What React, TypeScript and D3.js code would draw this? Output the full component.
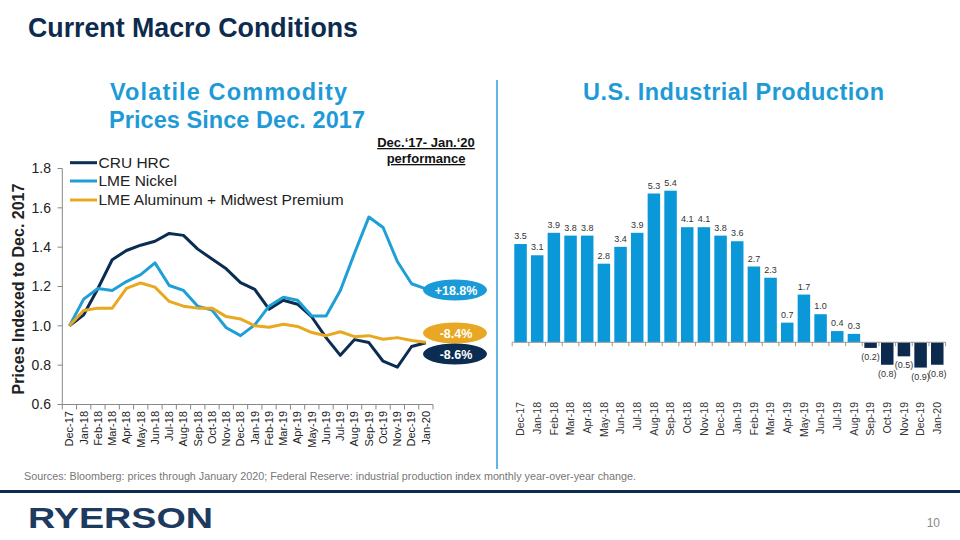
import React from "react";
import * as d3 from "d3";

const months = [
  "Dec-17", "Jan-18", "Feb-18", "Mar-18", "Apr-18", "May-18", "Jun-18", "Jul-18", "Aug-18",
  "Sep-18", "Oct-18", "Nov-18", "Dec-18", "Jan-19", "Feb-19", "Mar-19", "Apr-19", "May-19",
  "Jun-19", "Jul-19", "Aug-19", "Sep-19", "Oct-19", "Nov-19", "Dec-19", "Jan-20",
];

const cruHrc = [1.0, 1.056, 1.19, 1.336, 1.383, 1.41, 1.43, 1.47, 1.46, 1.39, 1.34, 1.29, 1.22,
  1.185, 1.085, 1.13, 1.11, 1.045, 0.94, 0.85, 0.93, 0.915, 0.82, 0.79, 0.895, 0.914];
const lmeNickel = [1.0, 1.136, 1.19, 1.18, 1.225, 1.26, 1.32, 1.205, 1.18, 1.1, 1.08, 0.99, 0.95,
  1.005, 1.1, 1.145, 1.13, 1.05, 1.05, 1.18, 1.37, 1.553, 1.5, 1.327, 1.214, 1.188];
const lmeAluminum = [1.0, 1.078, 1.09, 1.09, 1.19, 1.218, 1.197, 1.124, 1.1, 1.09, 1.09, 1.047, 1.035,
  1.0, 0.993, 1.008, 0.997, 0.966, 0.95, 0.97, 0.945, 0.95, 0.932, 0.94, 0.925, 0.916];

const seriesNames = ["CRU HRC", "LME Nickel", "LME Aluminum + Midwest Premium"];
const seriesColors = ["#0b2d52", "#1e9fd6", "#e8a820"];

const yTicks = [0.6, 0.8, 1.0, 1.2, 1.4, 1.6, 1.8];

const badgeLabels = ["+18.8%", "-8.4%", "-8.6%"];
const badgeColors = ["#1a9ad6", "#e8a823", "#0b2d52"];

const ipValues = [3.5, 3.1, 3.9, 3.8, 3.8, 2.8, 3.4, 3.9, 5.3, 5.4, 4.1, 4.1, 3.8, 3.6, 2.7, 2.3,
  0.7, 1.7, 1.0, 0.4, 0.3, -0.2, -0.8, -0.5, -0.9, -0.8];

const FONT = "'Liberation Sans', Arial, sans-serif";

export default function App() {
  // Left line chart scales
  const xL = d3.scaleBand<string>().domain(months).range([62.3, 433]).padding(0);
  const yL = d3.scaleLinear().domain([0.6, 1.8]).range([404.5, 168.5]);
  const bwL = xL.bandwidth();
  const cx = (m: string) => (xL(m) as number) + bwL / 2;
  const line = d3
    .line<number>()
    .x((_, i) => cx(months[i]))
    .y((v) => yL(v));
  const allSeries = [cruHrc, lmeNickel, lmeAluminum];

  // Right bar chart scales
  const xR = d3.scaleBand<string>().domain(months).range([512.2, 945.6]).paddingInner(0.25).paddingOuter(0.125);
  const yR = d3.scaleLinear().domain([0, 5.4]).range([342.3, 190.7]);
  const stepR = xR.step();
  const bandStartR = (m: string) => 512.2 + months.indexOf(m) * stepR;

  const badgeY = [290, 333, 354];

  return (
    <div style={{ position: "fixed", left: 0, top: 0 }}>
      <svg width={960} height={540} style={{ display: "block", background: "#fff" }} fontFamily={FONT}>
        {/* Main title */}
        <text x={28} y={37} fontSize={27} fontWeight="bold" fill="#0d2b4e" textLength={330} lengthAdjust="spacingAndGlyphs">
          Current Macro Conditions
        </text>

        {/* Subtitles */}
        <text x={228.5} y={100} fontSize={23.5} fontWeight="bold" fill="#1e9bd7" textAnchor="middle" textLength={237} lengthAdjust="spacing">
          Volatile Commodity
        </text>
        <text x={237} y={128} fontSize={23.5} fontWeight="bold" fill="#1e9bd7" textAnchor="middle" textLength={256} lengthAdjust="spacing">
          Prices Since Dec. 2017
        </text>
        <text x={733.5} y={100} fontSize={23.5} fontWeight="bold" fill="#1e9bd7" textAnchor="middle" textLength={301} lengthAdjust="spacing">
          U.S.  Industrial Production
        </text>

        <text x={426} y={147} fontSize={13} fontWeight="bold" fill="#111" textAnchor="middle" textDecoration="underline">
          Dec.‘17- Jan.‘20
        </text>
        <text x={426} y={163} fontSize={13} fontWeight="bold" fill="#111" textAnchor="middle" textDecoration="underline">
          performance
        </text>

        {/* Separator */}
        <line x1={497} x2={497} y1={80} y2={469} stroke="#2aa0d8" strokeWidth={1.5} />

        {/* Left chart axes */}
        <line x1={62.3} x2={62.3} y1={yL(1.8)} y2={yL(0.6)} stroke="#888" strokeWidth={1} />
        {yTicks.map((t) => (
          <g key={t}>
            <line x1={57.5} x2={62.3} y1={yL(t)} y2={yL(t)} stroke="#888" />
            <text x={51} y={yL(t)} dy="0.35em" fontSize={14} fill="#222" textAnchor="end">
              {t.toFixed(1)}
            </text>
          </g>
        ))}
        <line x1={62.3} x2={433} y1={yL(0.6)} y2={yL(0.6)} stroke="#888" />
        {months.concat(["end"]).map((m, i) => {
          const x = 62.3 + i * bwL;
          return <line key={"lt" + i} x1={x} x2={x} y1={yL(0.6)} y2={yL(0.6) + 5} stroke="#888" />;
        })}
        {months.map((m) => (
          <text
            key={"lx" + m}
            transform={`translate(${cx(m)},${411}) rotate(-90)`}
            dy="0.35em"
            fontSize={11}
            fill="#222"
            textAnchor="end"
          >
            {m}
          </text>
        ))}
        <text transform="translate(24,289) rotate(-90)" fontSize={16} fontWeight="bold" fill="#222" textAnchor="middle">
          Prices Indexed to Dec. 2017
        </text>

        {/* Lines */}
        {allSeries.map((s, i) => (
          <path key={"ln" + i} d={line(s) as string} fill="none" stroke={seriesColors[i]} strokeWidth={3} strokeLinejoin="round" />
        ))}

        {/* Legend */}
        {seriesNames.map((n, i) => {
          const ly = [162.7, 181, 200][i];
          return (
            <g key={"lg" + i}>
              <line x1={70} x2={97} y1={ly} y2={ly} stroke={seriesColors[i]} strokeWidth={3} />
              <text x={98.5} y={ly + 5} fontSize={15.5} fill="#222">
                {n}
              </text>
            </g>
          );
        })}

        {/* Badges */}
        {badgeLabels.map((b, i) => (
          <g key={"bd" + i}>
            <ellipse cx={455} cy={badgeY[i]} rx={32} ry={10.5} fill={badgeColors[i]} />
            <text x={456} y={badgeY[i]} dy="0.36em" fontSize={12.5} fontWeight="bold" fill="#fff" textAnchor="middle">
              {b}
            </text>
          </g>
        ))}

        {/* Right chart bars */}
        {ipValues.map((v, i) => {
          const m = months[i];
          const x = xR(m) as number;
          const w = xR.bandwidth();
          const y0 = yR(0);
          const y1 = yR(v);
          return (
            <rect
              key={"bar" + i}
              x={x}
              width={w}
              y={Math.min(y0, y1)}
              height={Math.abs(y1 - y0)}
              fill={v >= 0 ? "#0b98d8" : "#0c2a4e"}
            />
          );
        })}
        <line x1={512.2} x2={945.6} y1={yR(0)} y2={yR(0)} stroke="#999" />
        {months.concat(["end"]).map((m, i) => {
          const x = 512.2 + i * stepR;
          return <line key={"rt" + i} x1={x} x2={x} y1={yR(0)} y2={yR(0) + 4} stroke="#999" />;
        })}
        {ipValues.map((v, i) => {
          const m = months[i];
          const x = (xR(m) as number) + xR.bandwidth() / 2;
          const label = v >= 0 ? v.toFixed(1) : `(${Math.abs(v).toFixed(1)})`;
          const y = v >= 0 ? yR(v) - 5 : yR(v) + 12;
          return (
            <text key={"bl" + i} x={x} y={y} fontSize={9} fill="#333" textAnchor="middle">
              {label}
            </text>
          );
        })}
        {months.map((m) => (
          <text
            key={"rx" + m}
            transform={`translate(${bandStartR(m) + stepR / 2},${402}) rotate(-90)`}
            dy="0.35em"
            fontSize={10.5}
            fill="#333"
            textAnchor="end"
          >
            {m}
          </text>
        ))}

        {/* Footer */}
        <text x={24} y={480} fontSize={10} fill="#777" textLength={612} lengthAdjust="spacingAndGlyphs">
          Sources: Bloomberg: prices through January 2020; Federal Reserve: industrial production index monthly year-over-year change.
        </text>
        <rect x={0} y={490} width={960} height={3} fill="#0d2b4e" />
        <text x={28} y={528} fontSize={30} fontWeight="bold" fill="#1d3a5f" textLength={185} lengthAdjust="spacingAndGlyphs">
          RYERSON
        </text>
        <text x={940} y={527} fontSize={12} fill="#888" textAnchor="end">
          10
        </text>
      </svg>
    </div>
  );
}
